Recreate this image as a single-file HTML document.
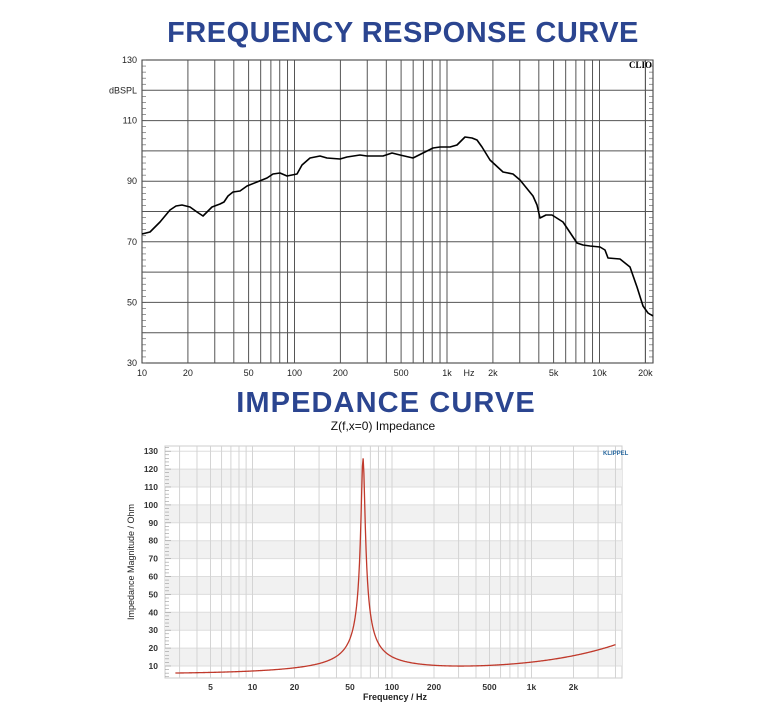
<!DOCTYPE html>
<html><head><meta charset="utf-8"><style>
html,body{margin:0;padding:0;background:#fff;}
svg{display:block;}
</style></head><body>
<svg id="s" width="761" height="714" xmlns="http://www.w3.org/2000/svg" font-family="Liberation Sans, sans-serif">
<text x="403" y="42" text-anchor="middle" font-size="29" font-weight="bold" fill="#2b4590" letter-spacing="0.5">FREQUENCY RESPONSE CURVE</text>
<text x="386" y="412" text-anchor="middle" font-size="29" font-weight="bold" fill="#2b4590" letter-spacing="1.1">IMPEDANCE CURVE</text>
<g id="top"></g>
<g id="bot"></g>
<text x="383" y="430" text-anchor="middle" font-size="12" fill="#111">Z(f,x=0) Impedance</text>
<text x="395" y="700" text-anchor="middle" font-size="9" font-weight="bold" fill="#222">Frequency / Hz</text>
<text transform="translate(134,562) rotate(-90)" text-anchor="middle" font-size="9" fill="#222">Impedance Magnitude / Ohm</text>
<text x="652" y="68" text-anchor="end" font-size="9" font-weight="bold" font-family="Liberation Serif, serif" fill="#000">CLIO</text>
<text x="603" y="455" font-size="6" font-weight="bold" fill="#2b6aa0">KLIPPEL</text>
</svg>
<script>
var NS="http://www.w3.org/2000/svg";
function el(p,t,a,txt){var e=document.createElementNS(NS,t);for(var k in a)e.setAttribute(k,a[k]);if(txt!==undefined)e.textContent=txt;p.appendChild(e);return e;}
var L=Math.log10;
var T=document.getElementById('top');
var X0=142,X1=653,Y0=60,Y1=363,D=152.5;
function tx(f){return X0+D*L(f/10);}
function ty(v){return Y0+(130-v)*3.03;}
el(T,'rect',{x:X0,y:Y0,width:X1-X0,height:Y1-Y0,fill:'#fff',stroke:'#333','stroke-width':1});
for(var v=40;v<130;v+=10){var y=ty(v);el(T,'line',{x1:X0,x2:X1,y1:y,y2:y,stroke:'#555','stroke-width':1});}
[10,100,1000,10000].forEach(function(dec){for(var m=1;m<10;m++){var f=dec*m;if(f<=10||f>20000)continue;var x=tx(f);el(T,'line',{x1:x,x2:x,y1:Y0,y2:Y1,stroke:'#555','stroke-width':1});}});
el(T,'line',{x1:tx(20000),x2:tx(20000),y1:Y0,y2:Y1,stroke:'#555'});
for(var v=30;v<=130;v+=2){var y=ty(v);el(T,'line',{x1:X0,x2:X0+4,y1:y,y2:y,stroke:'#555','stroke-width':.6});el(T,'line',{x1:X1-4,x2:X1,y1:y,y2:y,stroke:'#555','stroke-width':.6});}
[[130,'130'],[110,'110'],[90,'90'],[70,'70'],[50,'50'],[30,'30']].forEach(function(a){el(T,'text',{x:137,y:ty(a[0])+3,'text-anchor':'end','font-size':9,fill:'#222'},a[1]);});
el(T,'text',{x:137,y:ty(120)+3,'text-anchor':'end','font-size':9,fill:'#222'},'dBSPL');
[[10,'10'],[20,'20'],[50,'50'],[100,'100'],[200,'200'],[500,'500'],[1000,'1k'],[2000,'2k'],[5000,'5k'],[10000,'10k'],[20000,'20k']].forEach(function(a){el(T,'text',{x:tx(a[0]),y:376,'text-anchor':'middle','font-size':9,fill:'#222'},a[1]);});
el(T,'text',{x:469,y:376,'text-anchor':'middle','font-size':9,fill:'#222'},'Hz');
var pts=[[142,234],[150,232],[160,222],[170,210],[176,206],[182,205],[190,207],[197,212],[203,216],[208,211],[212,207],[220,204],[224,202],[228,196],[233,192],[240,191],[247,186],[257,182],[267,178],[273,174],[280,173],[287,176],[292,175],[297,174],[302,165],[310,158],[320,156],[327,158],[340,159],[347,157],[360,155],[367,156],[383,156],[392,153],[400,155],[413,158],[423,153],[433,148],[440,147],[450,147],[457,145],[465,137],[472,138],[477,140],[482,147],[490,160],[503,172],[513,174],[520,180],[533,196],[537,205],[540,218],[546,215],[552,215],[563,222],[577,243],[583,245],[590,246],[600,247],[605,250],[608,258],[620,259],[630,267],[637,287],[643,306],[648,313],[653,316]];
el(T,'polyline',{points:pts.map(function(p){return p.join(',')}).join(' '),fill:'none',stroke:'#000','stroke-width':1.6,'stroke-linejoin':'round'});
var B=document.getElementById('bot');
var bx0=165,bx1=622,by0=446,by1=678,BD=139.5;
function bx(f){return 392+BD*L(f/100);}
function by(v){return 666-(v-10)*1.79;}
el(B,'rect',{x:bx0,y:by0,width:bx1-bx0,height:by1-by0,fill:'#fff',stroke:'#ccc'});
[[110,120],[90,100],[70,80],[50,60],[30,40],[10,20]].forEach(function(b){el(B,'rect',{x:bx0,y:by(b[1]),width:bx1-bx0,height:by(b[0])-by(b[1]),fill:'#f1f1f1'});});
for(var v=10;v<=130;v+=10){var y=by(v);el(B,'line',{x1:bx0,x2:bx1,y1:y,y2:y,stroke:'#ddd','stroke-width':1});}
[1,10,100,1000].forEach(function(dec){for(var m=1;m<10;m++){var x=bx(dec*m);if(x<=bx0||x>=bx1)continue;el(B,'line',{x1:x,x2:x,y1:by0,y2:by1,stroke:'#d4d4d4','stroke-width':1});}});
for(var v=4;v<=132;v+=2){var y=by(v);if(y<by0||y>by1)continue;el(B,'line',{x1:bx0,x2:bx0+(v%10==0?6:4),y1:y,y2:y,stroke:'#999','stroke-width':.6});}
for(var v=10;v<=130;v+=10)el(B,'text',{x:158,y:by(v)+3,'text-anchor':'end','font-size':8.5,'font-weight':'bold',fill:'#333'},String(v));
[[5,'5'],[10,'10'],[20,'20'],[50,'50'],[100,'100'],[200,'200'],[500,'500'],[1000,'1k'],[2000,'2k']].forEach(function(a){el(B,'text',{x:bx(a[0]),y:690,'text-anchor':'middle','font-size':8.5,'font-weight':'bold',fill:'#333'},a[1]);});
var d='';
for(var i=0;i<=600;i++){var f=Math.pow(10,L(2.8)+i/600*(L(4000)-L(2.8)));var r=f/62-62/f;var z=5.6+120/Math.sqrt(1+207*r*r)+0.0449*Math.pow(f,0.71);if(z>126)z=126;d+=(i?'L':'M')+bx(f).toFixed(2)+','+by(z).toFixed(2);}
el(B,'path',{d:d,fill:'none',stroke:'#c0392b','stroke-width':1.3});
</script>
</body></html>
